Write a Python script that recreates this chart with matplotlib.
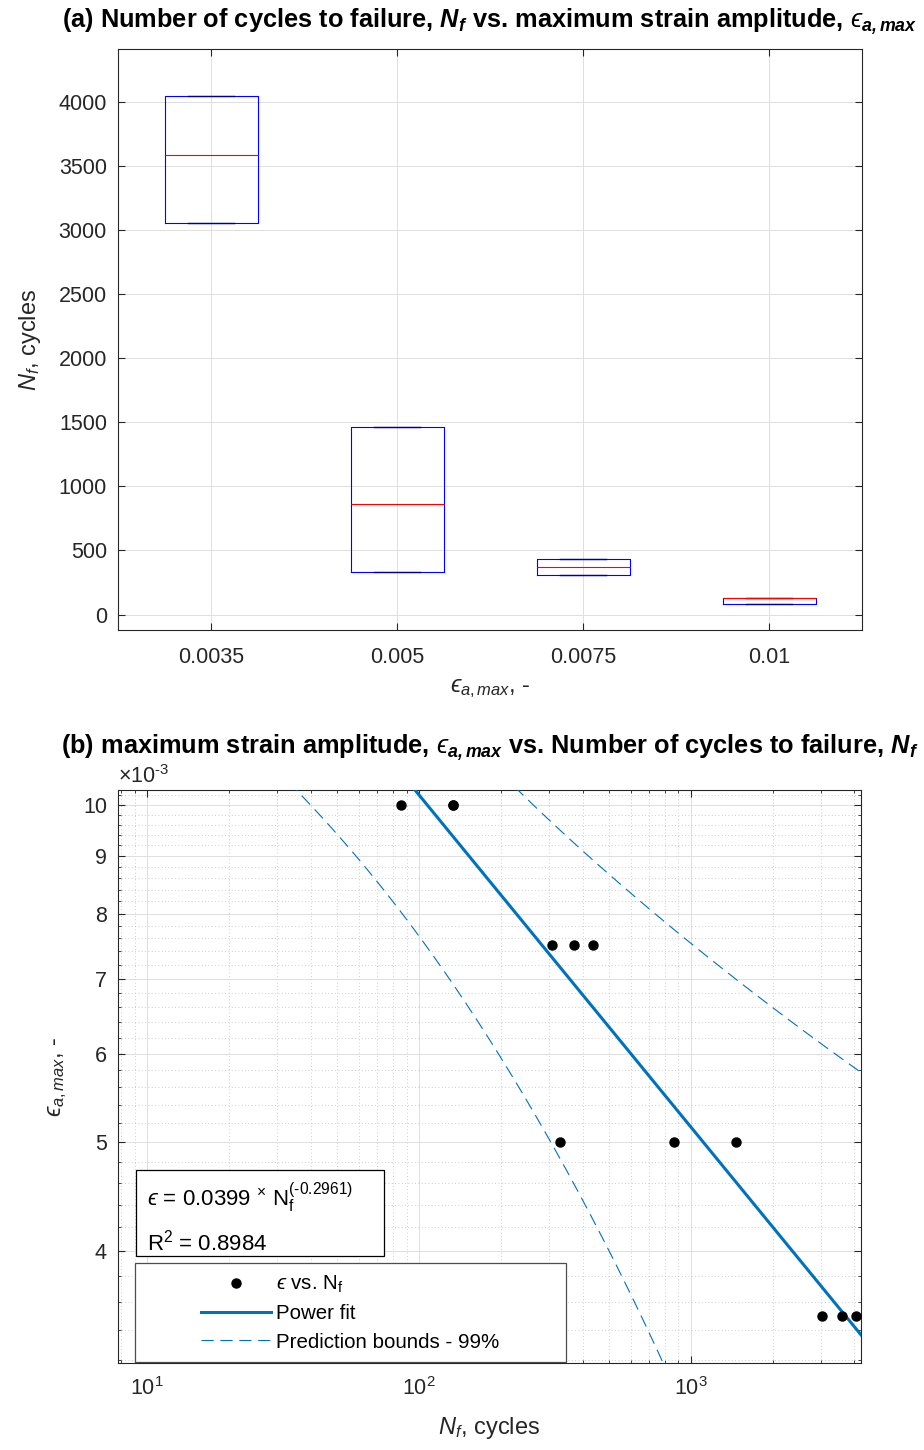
import numpy as np
import matplotlib
matplotlib.use("Agg")
import matplotlib.pyplot as plt
from matplotlib.patches import Rectangle
from matplotlib.lines import Line2D
from matplotlib.ticker import FixedLocator, FuncFormatter, NullFormatter, LogLocator

# ---------------- data ----------------
STRAIN_LEVELS = [0.0035, 0.005, 0.0075, 0.01]
STRAIN_LABELS = ["0.0035", "0.005", "0.0075", "0.01"]
NF_0035 = [3050, 3585, 4040]
NF_0050 = [330, 866, 1463]
NF_0075 = [309, 373, 436]
NF_0100 = [86, 133, 133]
FIT_A = 0.0399
FIT_B = -0.2961
R_SQUARED = 0.8984
Z_99 = 2.5758  # two-sided 99 % quantile used for the prediction bounds

groups = [NF_0035, NF_0050, NF_0075, NF_0100]

# ---------------- style ----------------
plt.rcParams['font.family'] = ['Liberation Sans', 'DejaVu Sans']
plt.rcParams['mathtext.fontset'] = 'custom'
plt.rcParams['mathtext.rm'] = 'Liberation Sans'
plt.rcParams['mathtext.it'] = 'Liberation Sans:italic'
plt.rcParams['mathtext.bf'] = 'Liberation Sans:bold'
plt.rcParams['mathtext.bfit'] = 'Liberation Sans:bold:italic'
plt.rcParams['mathtext.fallback'] = 'stixsans'
AX_COL = '#262626'
TICK_FS = 15.5
LABEL_FS = 17
TITLE_FS = 18.3
TITLE_FAMILY = ['Liberation Sans Narrow', 'Liberation Sans', 'DejaVu Sans']
HY = '\u2010'
EPS = '\u03f5'

fig = plt.figure(figsize=(9.24, 14.5), dpi=100)
ax1 = fig.add_axes([118/924, 1-630/1450, 744/924, 581/1450])
ax2 = fig.add_axes([118/924, 1-1363/1450, 743/924, 573/1450])

for ax in (ax1, ax2):
    for sp in ax.spines.values():
        sp.set_color(AX_COL)
        sp.set_linewidth(0.8)
    ax.tick_params(which='both', direction='in', top=True, right=True,
                   colors=AX_COL, labelsize=TICK_FS, pad=8)
    ax.tick_params(which='major', length=5, width=0.8)
    ax.tick_params(which='minor', length=2.5, width=0.6)
    ax.set_axisbelow(True)
ax1.tick_params(axis='x', pad=12.3)
ax2.tick_params(axis='x', pad=10.5)

# ---------------- (a) box plot ----------------
positions = np.arange(1, len(groups) + 1)
stats = []
for g in groups:
    arr = np.asarray(g, dtype=float)
    stats.append(dict(med=np.median(arr), q1=arr.min(), q3=arr.max(),
                      whislo=arr.min(), whishi=arr.max(), fliers=[]))
ax1.bxp(stats, positions=positions, widths=0.5, capwidths=0.25,
        showfliers=False,
        boxprops=dict(color='#0000ff', lw=0.8),
        medianprops=dict(color='#ff0000', lw=0.8),
        whiskerprops=dict(color='black', ls='--', lw=0.8),
        capprops=dict(color='#00008b', lw=1.0))
ax1.set_xlim(0.5, len(groups) + 0.5)
ax1.set_ylim(-120, 4410)
ax1.set_xticks(positions)
ax1.set_xticklabels(STRAIN_LABELS)
ax1.set_yticks(np.arange(0, 4001, 500))
ax1.grid(True, color='#dedede', lw=0.7)
ax1.set_ylabel(r'$N_f$, cycles', fontsize=LABEL_FS, color=AX_COL)
ax1.yaxis.label.set_va('center')
ax1.yaxis.set_label_coords(-0.118, 0.5)
ax1.set_xlabel('$' + EPS + r'_{a,max}$, -', fontsize=LABEL_FS, color=AX_COL)
ax1.xaxis.label.set_va('center')
ax1.xaxis.set_label_coords(0.5, -0.10)
ax1.set_title(r'(a) Number of cycles to failure, $\mathbfit{N}_{\mathbfit{f}}$ vs. maximum strain amplitude, $'
              + EPS + r'_{\mathbfit{a,max}}$',
              fontsize=TITLE_FS, fontweight='bold', family=TITLE_FAMILY, pad=15)

# ---------------- (b) power fit ----------------
N_all = np.concatenate([np.asarray(g, float) for g in groups])
E_all = np.concatenate([np.full(len(g), s) for g, s in zip(groups, STRAIN_LEVELS)])

XLIM = (7.8, 4228)
YLIM = (3.178e-3, 10.31e-3)

def model(n):
    return FIT_A * n ** FIT_B

resid = E_all - model(N_all)
dof = len(N_all) - 2
s2 = np.sum(resid ** 2) / dof
J = np.column_stack([N_all ** FIT_B, FIT_A * N_all ** FIT_B * np.log(N_all)])
cov = s2 * np.linalg.inv(J.T @ J)

n_grid = np.logspace(np.log10(XLIM[0]), np.log10(XLIM[1]), 400)
Jg = np.column_stack([n_grid ** FIT_B, FIT_A * n_grid ** FIT_B * np.log(n_grid)])
fit_vals = model(n_grid)
half = Z_99 * np.sqrt(s2 + np.einsum('ij,jk,ik->i', Jg, cov, Jg))

FIT_COL = '#0072BD'
DASH = (0, (11, 6))
ax2.plot(N_all, E_all, 'o', color='black', ms=6.5, zorder=4)
ax2.plot(n_grid, fit_vals, '-', color=FIT_COL, lw=2.2, zorder=3)
ax2.plot(n_grid, fit_vals + half, color=FIT_COL, lw=0.8, ls=DASH, zorder=3)
ax2.plot(n_grid, fit_vals - half, color=FIT_COL, lw=0.8, ls=DASH, zorder=3)

ax2.set_xscale('log')
ax2.set_yscale('log')
ax2.set_xlim(*XLIM)
ax2.set_ylim(*YLIM)
ax2.xaxis.set_major_locator(LogLocator(base=10))
ax2.xaxis.set_minor_locator(LogLocator(base=10, subs=np.arange(2, 10)))
ax2.xaxis.set_minor_formatter(NullFormatter())
major_y = np.arange(4, 11) * 1e-3
minor_y = [v * 1e-3 for v in np.arange(3.2, 10.31, 0.2) if abs(v - round(v)) > 1e-6]
ax2.yaxis.set_major_locator(FixedLocator(major_y))
ax2.yaxis.set_minor_locator(FixedLocator(minor_y))
ax2.yaxis.set_major_formatter(FuncFormatter(lambda v, p: f'{v*1e3:g}'))
ax2.yaxis.set_minor_formatter(NullFormatter())
ax2.grid(True, which='major', color='#dedede', lw=0.7)
ax2.grid(True, which='minor', color='#bdbdbd', lw=0.6, ls=(0, (1, 3)))
ax2.text(0.0, 1.003, r'$\times$10$^{' + HY + '3}$', transform=ax2.transAxes, ha='left', va='bottom',
         fontsize=TICK_FS, color=AX_COL)

ax2.set_xlabel(r'$N_f$, cycles', fontsize=LABEL_FS, color=AX_COL)
ax2.xaxis.label.set_va('center')
ax2.xaxis.set_label_coords(0.5, -0.113)
ax2.set_ylabel('$' + EPS + r'_{a,max}$, -', fontsize=LABEL_FS, color=AX_COL)
ax2.yaxis.label.set_va('center')
ax2.yaxis.set_label_coords(-0.081, 0.5)
ax2.set_title(r'(b) maximum strain amplitude, $' + EPS
              + r'_{\mathbfit{a,max}}$ vs. Number of cycles to failure, $\mathbfit{N}_{\mathbfit{f}}$',
              fontsize=TITLE_FS, fontweight='bold', family=TITLE_FAMILY, pad=26)

# equation box
ax2.add_patch(Rectangle((0.0242, 0.1864), 0.3338, 0.1498, transform=ax2.transAxes,
                        facecolor='white', edgecolor='black', lw=0.9, zorder=5))
eq_txt = '$' + EPS + r'$ = %s $^{\times}$ N$_\mathrm{f}^{(%s)}$' % (f'{FIT_A:.4f}', f'{FIT_B:.4f}'.replace('-', HY))
ax2.text(0.039, 0.289, eq_txt, transform=ax2.transAxes, fontsize=16, ha='left', va='center', zorder=6)
ax2.text(0.039, 0.211, r'R$^2$ = %s' % f'{R_SQUARED:.4f}',
         transform=ax2.transAxes, fontsize=16, ha='left', va='center', zorder=6)

# legend
ax2.add_patch(Rectangle((0.0229, 0.0017), 0.5801, 0.1725, transform=ax2.transAxes,
                        facecolor='white', edgecolor='#4d4d4d', lw=0.9, zorder=5))
handles = [Line2D([], [], ls='none', marker='o', color='black', ms=6.5),
           Line2D([], [], color=FIT_COL, lw=2.2),
           Line2D([], [], color=FIT_COL, lw=0.8, ls=DASH)]
labels = ['$' + EPS + r'$ vs. N$_\mathrm{f}$', 'Power fit', 'Prediction bounds - 99%']
leg = ax2.legend(handles, labels, loc='center', bbox_to_anchor=(0.0229, 0.0017, 0.5801, 0.1725),
                 frameon=False, fontsize=14.8, handlelength=3.4, handletextpad=0.25,
                 labelspacing=0.45, numpoints=1)
leg.set_zorder(7)

fig.savefig('out.png', dpi=100)
